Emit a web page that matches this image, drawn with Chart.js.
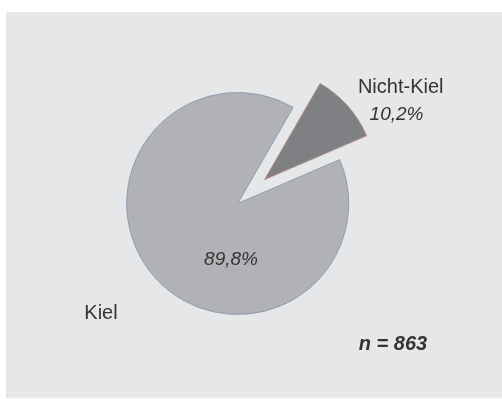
<!DOCTYPE html>
<html>
<head>
<meta charset="utf-8">
<script src="https://cdn.jsdelivr.net/npm/chart.js@4"></script>
<style>
  html, body { margin: 0; padding: 0; background: #ffffff; }
  #wrap { position: relative; width: 502px; height: 399px; }
</style>
</head>
<body>
<div id="wrap"><canvas id="c" width="502" height="399"></canvas></div>
<script>
const categories = ['Nicht-Kiel', 'Kiel'];
const shares = [10.2, 89.8];
const sampleSize = 863;

const fillColors = ['#7f8084', '#b1b2b6'];
const edgeColors = ['#b58d88', '#8d9bb1'];
const EXPLODE = 36;

function pct(v) { return v.toFixed(1).replace('.', ',') + '%'; }

const panelPlugin = {
  id: 'panel',
  beforeDraw(chart) {
    const ctx = chart.ctx;
    ctx.save();
    ctx.fillStyle = '#ffffff';
    ctx.fillRect(0, 0, chart.width, chart.height);
    ctx.fillStyle = '#e6e7e9';
    ctx.fillRect(6, 12, 496, 386);
    ctx.restore();
  }
};

const explodePlugin = {
  id: 'explode',
  afterDatasetUpdate(chart, args) {
    const meta = chart.getDatasetMeta(args.index);
    const el = meta.data[0];
    const half = (el.startAngle + el.endAngle) / 2;
    el.x += Math.cos(half) * EXPLODE;
    el.y += Math.sin(half) * EXPLODE;
  }
};

const textPlugin = {
  id: 'texts',
  afterDraw(chart) {
    const ctx = chart.ctx;
    ctx.save();
    ctx.textAlign = 'center';
    ctx.textBaseline = 'alphabetic';
    ctx.fillStyle = '#333333';
    ctx.font = '20px "Liberation Sans", Arial, sans-serif';
    ctx.fillText(categories[0], 400.7, 93.3);
    ctx.fillText(categories[1], 101, 319);
    ctx.font = 'italic 19px "Liberation Sans", Arial, sans-serif';
    ctx.fillText(pct(shares[0]), 396.5, 119.5);
    ctx.fillText(pct(shares[1]), 231, 265);
    ctx.font = 'italic bold 20px "Liberation Sans", Arial, sans-serif';
    ctx.fillText('n = ' + sampleSize, 393, 350);
    ctx.restore();
  }
};

new Chart(document.getElementById('c'), {
  type: 'pie',
  data: {
    labels: categories,
    datasets: [{
      data: shares,
      backgroundColor: fillColors,
      borderColor: edgeColors,
      borderWidth: 1
    }]
  },
  options: {
    responsive: false,
    animation: false,
    rotation: 30,
    radius: 111,
    layout: { padding: { left: 0, right: 26.6, top: 8, bottom: 0 } },
    plugins: {
      legend: { display: false },
      tooltip: { enabled: false }
    }
  },
  plugins: [panelPlugin, explodePlugin, textPlugin]
});
</script>
</body>
</html>
